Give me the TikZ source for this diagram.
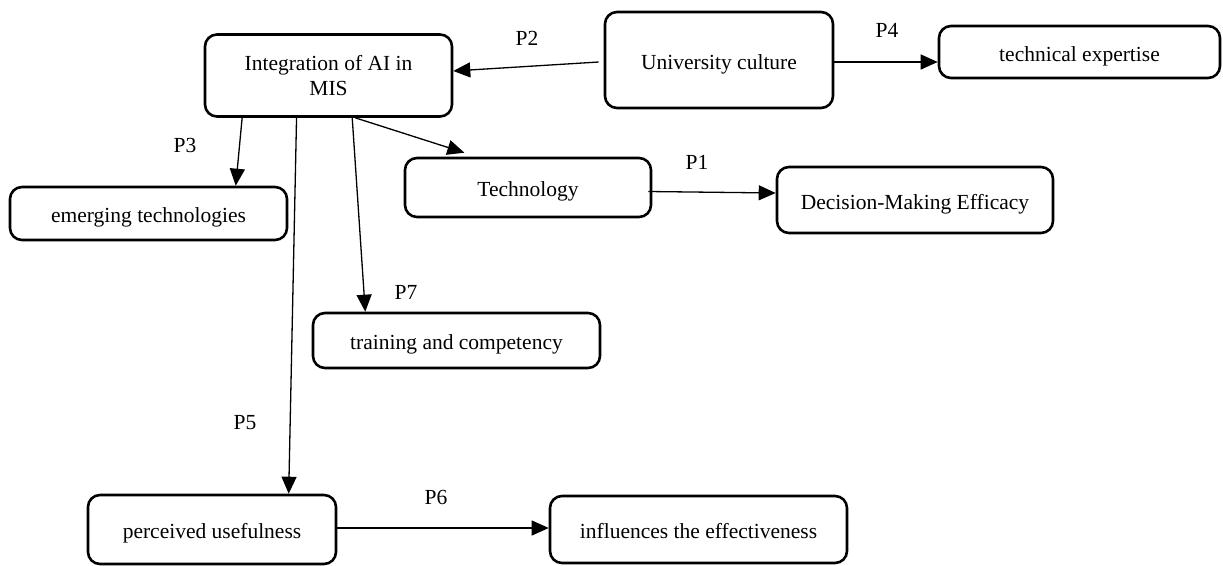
\documentclass[tikz,border=0pt]{standalone}
\usepackage{fontspec}
\setmainfont{Liberation Serif}
\usetikzlibrary{arrows.meta,calc}
\begin{document}
\begin{tikzpicture}[x=1pt,y=-1pt,
  box/.style={draw, line width=2.6pt, rounded corners=12pt, align=center,
    font=\fontsize{21.5}{25}\selectfont, inner sep=0pt},
  one/.style={box, text height=23pt, text depth=5pt},
  conn/.style={line width=1.3pt, -{Triangle[length=17pt,width=15pt]}},
  lbl/.style={font=\fontsize{21.5}{25}\selectfont, inner sep=0pt}]
\useasboundingbox (0,0) rectangle (1223,565);
% boxes
\node[box, minimum width=247pt, minimum height=82pt] (integ) at (328.5,75.5) {Integration of AI in\\MIS};
\node[one, minimum width=228pt, minimum height=96pt] (univ) at (719,60) {University culture};
\node[one, minimum width=281pt, minimum height=52pt] (texp) at (1079.5,52) {technical expertise};
\node[one, minimum width=277pt, minimum height=53pt] (emerg) at (148.5,213.5) {emerging technologies};
\node[one, minimum width=246pt, minimum height=59pt] (techn) at (528,187.5) {Technology};
\node[one, minimum width=276pt, minimum height=66pt] (dec) at (915,200) {Decision-Making Efficacy};
\node[one, minimum width=287pt, minimum height=55pt] (train) at (456.5,340.5) {training and competency};
\node[one, minimum width=248pt, minimum height=69pt] (perc) at (212,529.5) {perceived usefulness};
\node[one, minimum width=297pt, minimum height=67pt] (infl) at (698.5,529.5) {influences the effectiveness};
% connectors
\draw[conn] ([xshift=-5pt,yshift=-2pt]univ.west) -- ([yshift=4.5pt]integ.east);
\draw[conn] ([yshift=-2pt]univ.east) -- ([yshift=-10pt]texp.west);
\draw[conn] ($(integ.south west)!0.154!(integ.south east)$) -- ($(emerg.north west)!0.812!(emerg.north east)$);
\draw[conn] ($(integ.south west)!0.372!(integ.south east)$) -- ($(perc.north west)!0.806!(perc.north east)$);
\draw[conn] ($(integ.south west)!0.595!(integ.south east)$) -- ($(train.north west)!0.185!(train.north east)$);
\draw[conn] ($(integ.south west)!0.607!(integ.south east)$) -- ([yshift=4pt]$(techn.north west)!0.244!(techn.north east)$);
\draw[conn] ([xshift=-4pt,yshift=-4pt]techn.east) -- ([yshift=7pt]dec.west);
\draw[conn] ([yshift=1.5pt]perc.east) -- ([yshift=1.5pt]infl.west);
% labels
\node[lbl] (p2) at (527,38) {P2};
\node[lbl] (p4) at (887,30) {P4};
\node[lbl] (p3) at (185,145) {P3};
\node[lbl] (p1) at (697,162) {P1};
\node[lbl] (p7) at (406,292) {P7};
\node[lbl] (p5) at (245,423) {P5};
\node[lbl] (p6) at (436,497) {P6};
\end{tikzpicture}
\end{document}
